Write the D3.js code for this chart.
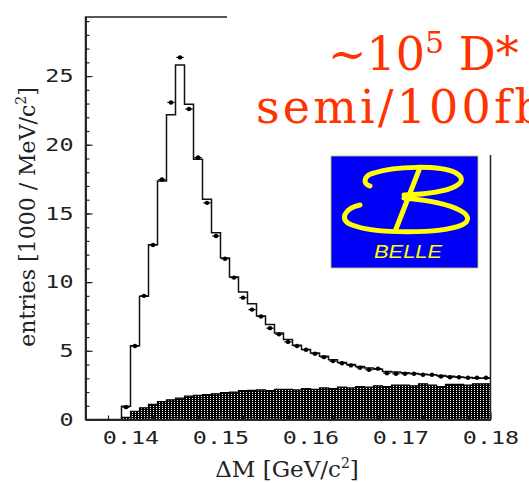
<!DOCTYPE html>
<html><head><meta charset="utf-8">
<script src="https://cdn.jsdelivr.net/npm/d3@7"></script>
<style>html,body{margin:0;padding:0;background:#fff;overflow:hidden}</style>
</head><body>
<script>
// ---- data (1 MeV bins, low edges in GeV/c^2) ----
const binLow = [0.139,0.140,0.141,0.142,0.143,0.144,0.145,0.146,0.147,0.148,
  0.149,0.150,0.151,0.152,0.153,0.154,0.155,0.156,0.157,0.158,
  0.159,0.160,0.161,0.162,0.163,0.164,0.165,0.166,0.167,0.168,
  0.169,0.170,0.171,0.172,0.173,0.174,0.175,0.176,0.177,0.178,0.179];
const mcValues = [0.97,5.37,8.97,12.73,17.37,22.18,25.8,22.94,18.95,16.03,
  13.6,11.76,10.37,9.28,8.43,7.53,6.92,6.29,5.83,5.4,
  5.1,4.85,4.6,4.35,4.15,4.0,3.85,3.75,3.65,3.5,
  3.45,3.4,3.35,3.3,3.25,3.2,3.15,3.1,3.05,3.0,3.0];
const dataValues = [0.9,5.35,9.0,12.7,17.47,23.08,26.36,22.6,19.07,15.77,
  13.36,11.7,10.33,8.87,8.0,7.5,6.65,6.2,5.65,5.35,
  5.08,4.79,4.54,4.25,4.1,3.94,3.77,3.62,3.7,3.37,
  3.33,3.33,3.33,3.26,3.26,3.13,3.08,3.08,3.04,3.04,3.04];
const bkgValues = [0.15,0.6,0.85,1.1,1.3,1.43,1.55,1.7,1.75,1.82,
  1.87,1.95,2.0,2.1,2.12,2.15,2.1,2.2,2.2,2.15,
  2.25,2.2,2.3,2.25,2.35,2.3,2.4,2.35,2.45,2.4,
  2.5,2.5,2.45,2.6,2.5,2.4,2.55,2.55,2.5,2.6,2.6];
const binWidth = 0.001;
const xDomain = [0.135, 0.18];
const yDomain = [0, 29.3];
const xTicks = [0.14, 0.15, 0.16, 0.17, 0.18];
const xTickLabels = ["0.14", "0.15", "0.16", "0.17", "0.18"];
const yTicks = [0, 5, 10, 15, 20, 25];
const yTickLabels = ["0", "5", "10", "15", "20", "25"];
const xTitle = "ΔM [GeV/c";
const yTitle = "entries [1000 / MeV/c";
const noteLine1 = ["~10", "5", " D*"];
const noteLine2 = "semi/100fb\u207B\u00B9";
const logoText = "BELLE";

const W = 529, H = 483;
const x = d3.scaleLinear().domain(xDomain).range([85.5, 490.5]);
const y = d3.scaleLinear().domain(yDomain).range([419.5, 17]);

const svg = d3.select("body").append("svg").attr("width", W).attr("height", H);
const defs = svg.append("defs");
const pat = defs.append("pattern").attr("id", "dots").attr("width", 3).attr("height", 2)
  .attr("patternUnits", "userSpaceOnUse");
pat.append("rect").attr("width", 3).attr("height", 2).attr("fill", "#000");
pat.append("rect").attr("width", 1).attr("height", 1).attr("fill", "#fff");

const bins = binLow.map((b, i) => ({x0: b, mc: mcValues[i], d: dataValues[i], bk: bkgValues[i]}));
const last = bins[bins.length - 1];

// background (filled step area)
const bkgPts = bins.map(b => [b.x0, b.bk]).concat([[last.x0 + binWidth, last.bk]]);
svg.append("path")
  .attr("d", d3.area().curve(d3.curveStepAfter).x(d => x(d[0])).y0(y(0)).y1(d => y(d[1]))(bkgPts))
  .attr("fill", "url(#dots)").attr("stroke", "none");
svg.append("path")
  .attr("d", d3.line().curve(d3.curveStepAfter).x(d => x(d[0])).y(d => y(d[1]))([[bins[0].x0, 0]].concat(bkgPts)))
  .attr("fill", "none").attr("stroke", "#000").attr("stroke-width", 1.2);

// MC histogram
const mcPts = [[bins[0].x0, 0]].concat(bins.map(b => [b.x0, b.mc])).concat([[last.x0 + binWidth, last.mc]]);
svg.append("path")
  .attr("d", d3.line().curve(d3.curveStepAfter).x(d => x(d[0])).y(d => y(d[1]))(mcPts))
  .attr("fill", "none").attr("stroke", "#111").attr("stroke-width", 1.5);

// data points
const pts = svg.append("g");
bins.forEach(b => {
  const cx = x(b.x0 + binWidth / 2), cy = y(b.d);
  pts.append("line").attr("x1", x(b.x0 + 0.1 * binWidth)).attr("x2", x(b.x0 + 0.9 * binWidth))
    .attr("y1", cy).attr("y2", cy).attr("stroke", "#000").attr("stroke-width", 1.3);
  pts.append("circle").attr("cx", cx).attr("cy", cy).attr("r", 2.2).attr("fill", "#000");
});

// axes
const sx = 1.3;
const xAxis = svg.append("g").attr("transform", `translate(0,${y(0)})`)
  .call(d3.axisBottom(x).tickValues(xTicks).tickFormat((d, i) => xTickLabels[i]).tickSize(-7).tickSizeOuter(0).tickPadding(12));
const xMinor = svg.append("g").attr("transform", `translate(0,${y(0)})`)
  .call(d3.axisBottom(x).tickValues(d3.range(0.1375, 0.18, 0.0025)).tickFormat("").tickSize(-4).tickSizeOuter(0));
const yAxis = svg.append("g").attr("transform", `translate(${x(xDomain[0])},0)`)
  .call(d3.axisLeft(y).tickValues(yTicks).tickFormat((d, i) => yTickLabels[i]).tickSize(-7).tickSizeOuter(0).tickPadding(12));
const yMinor = svg.append("g").attr("transform", `translate(${x(xDomain[0])},0)`)
  .call(d3.axisLeft(y).tickValues(d3.range(1, 30, 1)).tickFormat("").tickSize(-4).tickSizeOuter(0));
[xAxis, xMinor, yAxis, yMinor].forEach(g => {
  g.selectAll("path").attr("stroke", "#222").attr("stroke-width", 1.5);
  g.selectAll("line").attr("stroke", "#222").attr("stroke-width", 1.2);
});
xAxis.selectAll("text").attr("font-family", "DejaVu Sans Mono").attr("font-size", 18).attr("fill", "#222")
  .attr("transform", `scale(${sx},1)`);
yAxis.selectAll("text").attr("font-family", "DejaVu Sans Mono").attr("font-size", 18).attr("fill", "#222")
  .attr("x", -12 / sx).attr("transform", `scale(${sx},1)`);

// frame
svg.append("rect").attr("x", x(xDomain[0])).attr("y", y(yDomain[1]))
  .attr("width", x(xDomain[1]) - x(xDomain[0])).attr("height", y(0) - y(yDomain[1]))
  .attr("fill", "none").attr("stroke", "#222").attr("stroke-width", 1.5);

// axis titles
const xt = svg.append("text").attr("x", 287).attr("y", 477).attr("text-anchor", "middle")
  .attr("font-family", "DejaVu Serif").attr("font-size", 23).attr("fill", "#222");
xt.append("tspan").text(xTitle);
xt.append("tspan").attr("dy", -9).attr("font-size", 14).text("2");
xt.append("tspan").attr("dy", 9).text("]");

const yt = svg.append("text").attr("transform", "translate(35,217) rotate(-90)").attr("text-anchor", "middle")
  .attr("font-family", "DejaVu Serif").attr("font-size", 22).attr("fill", "#222");
yt.append("tspan").text(yTitle);
yt.append("tspan").attr("dy", -9).attr("font-size", 14).text("2");
yt.append("tspan").attr("dy", 9).text("]");

// overlay area (slide annotation)
svg.append("rect").attr("x", 227).attr("y", 0).attr("width", W - 227).attr("height", 155).attr("fill", "#fff");

const red = "#ff3300";
const t1 = svg.append("text").attr("x", 328).attr("y", 70)
  .attr("font-family", "DejaVu Serif").attr("font-size", 46).attr("fill", red);
t1.append("tspan").text(noteLine1[0]);
t1.append("tspan").attr("dy", -17).attr("font-size", 30).text(noteLine1[1]);
t1.append("tspan").attr("dy", 17).text(noteLine1[2]);
svg.append("text").attr("x", 256).attr("y", 123).attr("letter-spacing", 3.2)
  .attr("font-family", "DejaVu Serif").attr("font-size", 46).attr("fill", red).text(noteLine2);

// Belle logo
const logo = svg.append("g");
logo.append("rect").attr("x", 331).attr("y", 156).attr("width", 147).attr("height", 112)
  .attr("fill", "#0000f8").attr("stroke", "#c8c850").attr("stroke-width", 0.8);
const yel = "#ffff00";
logo.append("path").attr("d", "M370,186 C362,184 364,175 374,173 C395,166 440,165 456,173 C470,181 458,193 404,195")
  .attr("fill", "none").attr("stroke", yel).attr("stroke-width", 5).attr("stroke-linecap", "round");
logo.append("path").attr("d", "M360,205 C345,208 338,220 352,225 C375,234 440,234 462,225 C478,217 460,203 404,198")
  .attr("fill", "none").attr("stroke", yel).attr("stroke-width", 5).attr("stroke-linecap", "round");
logo.append("path").attr("d", "M419,170 L396,229")
  .attr("fill", "none").attr("stroke", yel).attr("stroke-width", 5).attr("stroke-linecap", "round");
logo.append("text").attr("x", 374).attr("y", 258).attr("textLength", 68).attr("lengthAdjust", "spacingAndGlyphs")
  .attr("font-family", "Liberation Sans").attr("font-style", "italic").attr("font-size", 18)
  .attr("fill", yel).text(logoText);
</script>
</body></html>
